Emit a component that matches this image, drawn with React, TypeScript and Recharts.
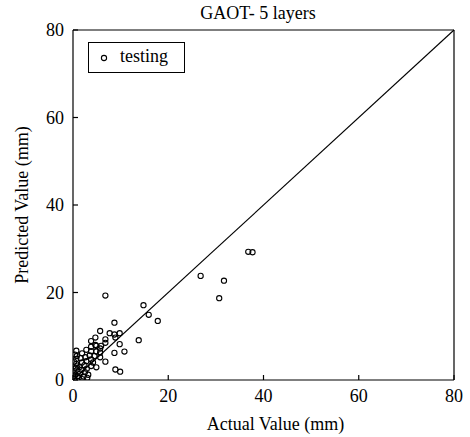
import { ScatterChart, Scatter, XAxis, YAxis, ReferenceLine } from "recharts";

// GAOT 5-layer model, testing set: actual vs predicted (mm)
const actual = [
  6.8, 14.8, 15.9, 17.8, 8.7, 13.8, 5.7, 7.7, 8.7, 9.8, 8.9, 6.8, 4.7, 9.8, 6.8, 4.7, 5.7, 8.7, 10.8, 6.8, 8.9, 9.9,
  26.8, 31.7, 30.7, 36.8, 37.7,
  3.8, 3.8, 5.9, 4.9, 2.8, 3.8, 4.9, 5.7, 0.7, 1.9, 5.7, 0.7, 2.8, 3.8, 0.7, 1.9, 4.9, 3.8,
  0.3, 0.5, 0.3, 0.6, 0.2, 0.8, 1.2, 1.5, 1.8, 1.4, 2.2, 2.5, 2.9, 3.2, 2.4, 1.0, 0.4, 1.6, 3.5, 4.2, 2.6, 0.2, 0.9,
  0.1, 4.5, 3.0, 1.9,
];
const predicted = [
  19.3, 17.1, 14.9, 13.5, 13.1, 9.1, 11.2, 10.7, 10.4, 10.7, 9.7, 9.3, 9.7, 8.2, 8.5, 8.0, 7.2, 6.2, 6.5, 4.2, 2.4, 1.9,
  23.8, 22.7, 18.7, 29.3, 29.2,
  8.9, 7.6, 7.8, 7.8, 6.9, 6.6, 6.5, 6.3, 6.7, 6.1, 5.2, 4.8, 4.3, 4.7, 3.7, 4.0, 2.9, 3.2,
  0.3, 1.2, 2.0, 2.8, 4.2, 5.5, 0.5, 1.5, 2.3, 3.0, 0.8, 1.8, 2.6, 1.2, 3.4, 0.9, 5.8, 5.0, 5.6, 4.0, 5.2, 1.5, 3.3,
  0.8, 5.5, 0.5, 0.2,
];
const axisTicks = [0, 20, 40, 60, 80];

const points = actual.map((a, i) => ({ actual: a, predicted: predicted[i] }));

const font = "Liberation Serif, Times New Roman, DejaVu Serif, serif";
const tickStyle = { fontSize: 18, fontFamily: font, fill: "#000" };

function Ring(p: any) {
  return <circle cx={p.cx} cy={p.cy} r={2.6} fill="none" stroke="#000" strokeWidth={1.1} />;
}

export default function App() {
  return (
    <div style={{ position: "absolute", left: 0, top: 0, width: 470, height: 437, background: "#fff", fontFamily: font }}>
      <ScatterChart width={470} height={437} margin={{ top: 30, right: 16, bottom: 0, left: 0 }} style={{ fontFamily: font }}>
        <XAxis
          type="number"
          dataKey="actual"
          domain={[0, 80]}
          ticks={axisTicks}
          allowDataOverflow
          height={57}
          tickSize={-5}
          tickMargin={14}
          tick={tickStyle}
          stroke="#000"
          strokeWidth={1.2}
          label={{
            content: (p: any) => (
              <text x={p.viewBox.x + p.viewBox.width / 2 + 12} y={p.viewBox.y + 50} textAnchor="middle" fontFamily={font} fontSize={18} fill="#000">
                Actual Value (mm)
              </text>
            ),
          }}
        />
        <YAxis
          type="number"
          dataKey="predicted"
          domain={[0, 80]}
          ticks={axisTicks}
          allowDataOverflow
          width={73}
          tickSize={-5}
          tickMargin={14}
          tick={tickStyle}
          stroke="#000"
          strokeWidth={1.2}
          label={{
            content: (p: any) => {
              const cx = p.viewBox.x + 28;
              const cy = p.viewBox.y + p.viewBox.height / 2;
              return (
                <text x={cx} y={cy} textAnchor="middle" transform={`rotate(-90, ${cx}, ${cy})`} fontFamily={font} fontSize={18} fill="#000">
                  Predicted Value (mm)
                </text>
              );
            },
          }}
        />
        <ReferenceLine y={80} stroke="#000" strokeWidth={1.2} />
        <ReferenceLine x={80} stroke="#000" strokeWidth={1.2} />
        <ReferenceLine segment={[{ x: 0, y: 0 }, { x: 80, y: 80 }]} stroke="#000" strokeWidth={1.1} />
        <Scatter data={points} shape={Ring} isAnimationActive={false} />
      </ScatterChart>
      <div style={{ position: "absolute", left: 0, top: 3, width: 516, textAlign: "center", fontSize: 18, color: "#000" }}>
        GAOT- 5 layers
      </div>
      <div
        style={{
          position: "absolute", left: 88, top: 42, width: 95, height: 29, border: "1px solid #000", background: "#fff",
          display: "flex", alignItems: "center", fontSize: 18, color: "#000",
        }}
      >
        <svg width={30} height={20} style={{ flex: "none" }}>
          <circle cx={15} cy={10} r={2.6} fill="none" stroke="#000" strokeWidth={1.1} />
        </svg>
        <span style={{ marginLeft: 1, marginTop: -2 }}>testing</span>
      </div>
    </div>
  );
}
